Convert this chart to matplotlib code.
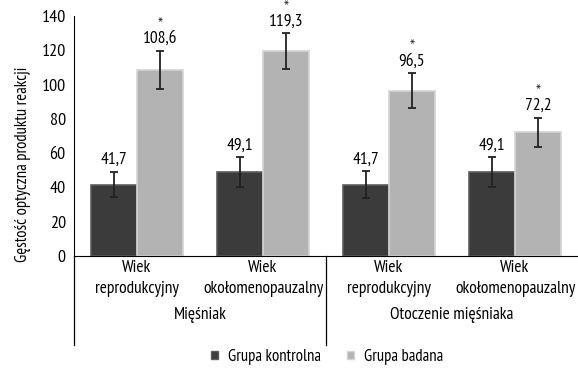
import numpy as np
import matplotlib.pyplot as plt
from matplotlib.lines import Line2D
from matplotlib.patches import Patch

plt.rcParams['font.family'] = ['PT Sans Narrow', 'DejaVu Sans']

subgroups = ["Wiek\nreprodukcyjny", "Wiek\nokołomenopauzalny",
             "Wiek\nreprodukcyjny", "Wiek\nokołomenopauzalny"]
tissues = ["Mięśniak", "Otoczenie mięśniaka"]
control = [41.7, 49.1, 41.7, 49.1]
control_err = [7.5, 8.7, 7.9, 8.7]
studied = [108.6, 119.3, 96.5, 72.2]
studied_err = [11.2, 10.5, 10.3, 8.5]
significant = [True, True, True, True]

fig = plt.figure(figsize=(5.78, 3.74), dpi=100)
ax = fig.add_axes([74 / 578, 1 - 256 / 374, 504 / 578, 240 / 374])

x = np.arange(len(subgroups))
w = 0.365
dark = '#3b3b3b'
light = '#b3b3b3'
ekw = dict(ecolor='#222222', elinewidth=1.3, capsize=3, capthick=1.3)
ax.bar(x - w / 2, control, w, color=dark, edgecolor='#5c5c5c', linewidth=1.2,
       yerr=control_err, error_kw=ekw)
ax.bar(x + w / 2, studied, w, color=light, edgecolor='#d4d4d4', linewidth=1.2,
       yerr=studied_err, error_kw=ekw)

def fmt(v):
    return ("%.1f" % v).replace(".", ",")

for i in range(len(subgroups)):
    ax.annotate(fmt(control[i]), (x[i] - w / 2, control[i] + control_err[i]),
                xytext=(0, 2.5), textcoords='offset points', ha='center', va='bottom', fontsize=12.5)
    ax.annotate(fmt(studied[i]), (x[i] + w / 2, studied[i] + studied_err[i]),
                xytext=(0, 2.5), textcoords='offset points', ha='center', va='bottom', fontsize=12.5)
    if significant[i]:
        ax.annotate("*", (x[i] + w / 2, studied[i] + studied_err[i]),
                    xytext=(0, 12), textcoords='offset points', ha='center', va='bottom',
                    fontsize=12.5, color='#333333')

ax.set_xlim(-0.5, len(subgroups) - 0.5)
ax.set_ylim(0, 140)
ax.set_yticks(np.arange(0, 141, 20))
ax.tick_params(axis='y', length=0, labelsize=13, pad=6)
ax.tick_params(axis='x', length=0, labelsize=12.5, pad=3)
ax.set_xticks(x)
ax.set_xticklabels(subgroups, linespacing=1.4)
ax.spines['top'].set_visible(False)
ax.spines['right'].set_visible(False)
ax.spines['left'].set_color('black')
ax.spines['bottom'].set_color('black')
ax.set_ylabel("Gęstość optyczna produktu reakcji", fontsize=12)
ax.yaxis.set_label_coords(-0.085, 0.38)

# group separators and group names below the axis
for xs in [-0.5, 1.5]:
    ax.add_line(Line2D([xs, xs], [0, -0.37], transform=ax.get_xaxis_transform(),
                       color='black', linewidth=0.9, clip_on=False))
for j, name in enumerate(tissues):
    ax.text(0.5 + 2 * j, -0.245, name, transform=ax.get_xaxis_transform(),
            ha='center', va='center', fontsize=12.5)

handles = [Patch(facecolor=dark, edgecolor='#5c5c5c', label="Grupa kontrolna"),
           Patch(facecolor=light, edgecolor='#d4d4d4', label="Grupa badana")]
fig.legend(handles=handles, loc='center', bbox_to_anchor=(327 / 578, 1 - 357 / 374),
           ncol=2, frameon=False, fontsize=12, handlelength=0.4, handleheight=0.4,
           handletextpad=0.6, columnspacing=1.6)

fig.savefig("out.png", dpi=100)
